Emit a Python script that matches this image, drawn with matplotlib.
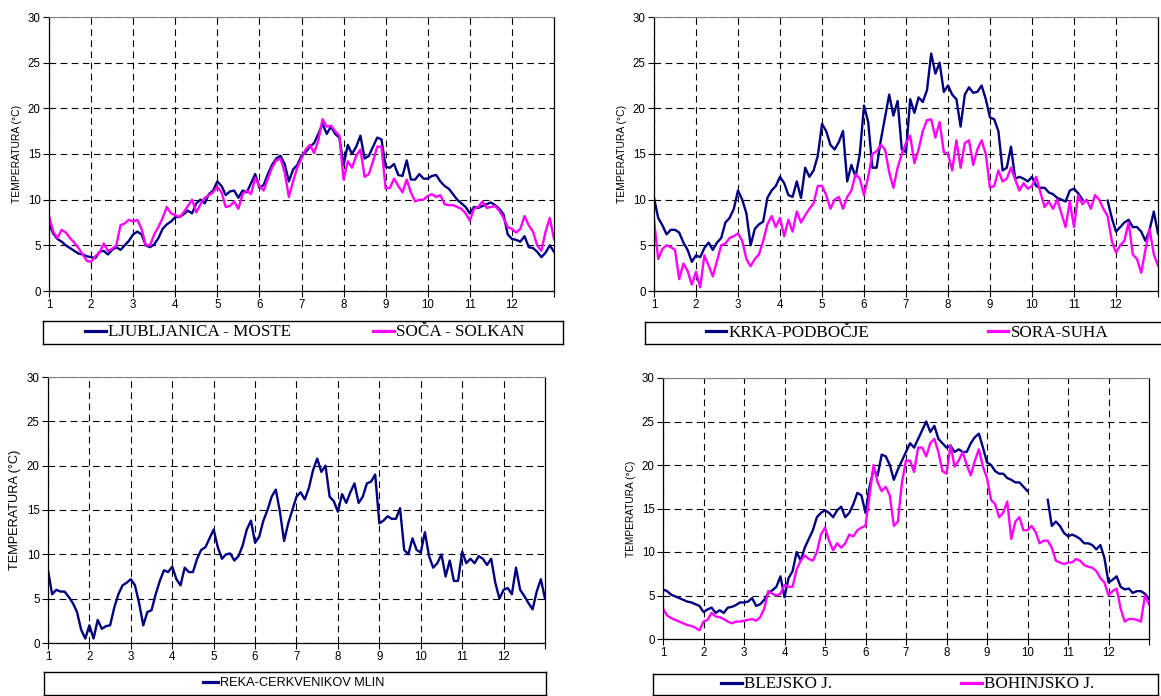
import numpy as np
import matplotlib
matplotlib.use("Agg")
import matplotlib.pyplot as plt
from matplotlib.lines import Line2D
from matplotlib.legend import Legend

nan = np.nan
# sample positions (month axis, 0.1 month steps)
x_month = np.round(np.arange(1.0, 13.0001, 0.1), 1)
month_ticks = list(range(1, 13))
temp_ticks = [0, 5, 10, 15, 20, 25, 30]

ljubljanica = [7.4, 6.3, 5.7, 5.4, 5.0, 4.7, 4.4, 4.1, 4.0, 3.8,
               3.7, 3.6, 4.3, 4.4, 4.0, 4.5, 4.8, 4.5, 5.0, 5.5,
               6.2, 6.5, 6.2, 5.0, 4.8, 5.1, 5.8, 6.8, 7.3, 7.6,
               8.1, 8.1, 8.4, 8.8, 8.5, 9.6, 10.0, 9.6, 10.6, 11.0,
               12.0, 11.5, 10.5, 10.9, 11.0, 10.2, 11.0, 10.8, 11.8, 12.8,
               11.3, 11.6, 12.8, 13.8, 14.5, 14.8, 13.9, 12.0, 13.3, 13.8,
               14.8, 15.2, 15.8, 16.2, 17.2, 18.3, 17.2, 18.0, 17.2, 16.8,
               13.8, 16.0, 15.0, 15.8, 17.0, 14.5, 14.8, 15.8, 16.8, 16.6,
               13.6, 13.5, 13.9, 12.7, 12.6, 14.3, 12.2, 12.2, 12.8, 12.3,
               12.3, 12.6, 12.7, 12.0, 11.5, 11.2, 10.6, 10.0, 9.6, 9.2,
               8.5, 9.2, 9.1, 9.3, 9.5, 9.7, 9.4, 9.0, 8.4, 6.2,
               5.7, 5.6, 5.4, 6.0, 4.8, 4.7, 4.3, 3.7, 4.2, 5.0,
               4.3]
soca = [8.2, 6.5, 5.8, 6.7, 6.4, 5.8, 5.3, 4.7, 4.0, 3.3,
        3.2, 3.8, 4.2, 5.2, 4.4, 4.6, 5.0, 7.2, 7.4, 7.8,
        7.6, 7.8, 6.8, 5.0, 5.0, 6.2, 7.0, 8.0, 9.2, 8.5,
        8.3, 8.1, 8.6, 9.3, 10.0, 8.6, 9.5, 10.2, 10.5, 10.8,
        11.4, 10.8, 9.2, 9.3, 9.8, 9.0, 10.6, 11.0, 10.6, 12.4,
        11.5, 11.0, 12.3, 13.5, 14.3, 14.5, 13.0, 10.3, 12.0, 13.5,
        14.5, 15.5, 16.0, 15.1, 16.5, 18.8, 18.0, 18.1, 17.5, 17.0,
        12.2, 14.2, 13.5, 14.8, 15.5, 12.5, 12.8, 14.2, 15.8, 15.8,
        11.2, 11.3, 12.3, 11.5, 10.8, 12.2, 10.8, 9.8, 10.0, 10.0,
        10.4, 10.6, 10.3, 10.5, 9.5, 9.4, 9.4, 9.2, 9.0, 8.5,
        7.7, 9.0, 9.2, 9.8, 9.1, 9.2, 9.3, 8.8, 8.0, 7.0,
        6.8, 6.4, 6.8, 8.2, 7.2, 6.5, 5.0, 4.4, 6.5, 8.0,
        5.7]

krka = [10.2, 8.0, 7.2, 6.2, 6.7, 6.7, 6.4, 5.3, 4.5, 3.2,
        3.9, 3.7, 4.7, 5.3, 4.5, 5.3, 5.8, 7.5, 8.0, 9.0,
        11.0, 10.0, 8.5, 5.0, 6.8, 7.3, 7.6, 10.2, 11.0, 11.5,
        12.5, 11.8, 10.5, 10.3, 12.0, 10.2, 13.5, 12.5, 13.2, 14.8,
        18.3, 17.5, 16.0, 15.5, 16.3, 17.5, 12.0, 13.8, 12.5, 15.0,
        20.3, 18.5, 13.5, 13.5, 16.5, 19.0, 21.5, 19.2, 20.8, 15.5,
        15.2, 21.0, 19.5, 21.2, 20.7, 22.0, 26.0, 23.8, 25.0, 21.8,
        22.5, 21.5, 21.0, 18.0, 21.5, 22.3, 21.7, 21.8, 22.5, 21.0,
        19.0, 18.8, 17.5, 13.2, 13.5, 15.8, 12.3, 12.5, 12.3, 12.0,
        12.5, 11.5, 11.3, 11.3, 10.8, 10.6, 10.2, 10.0, 9.8, 11.0,
        11.2, 10.7, 10.0, nan, nan, nan, nan, nan, 9.9, 8.0,
        6.5, 7.0, 7.5, 7.8, 7.0, 7.0, 6.5, 5.5, 6.7, 8.7,
        6.3]
sora = [7.8, 3.5, 4.6, 5.0, 4.8, 4.5, 1.3, 3.0, 2.2, 0.7,
        2.1, 0.4, 3.9, 2.8, 1.6, 3.3, 5.0, 5.2, 5.8, 6.0,
        6.3, 5.5, 3.5, 2.7, 3.5, 4.0, 5.5, 7.3, 8.2, 7.0,
        8.0, 6.0, 7.8, 6.5, 8.7, 7.5, 8.3, 9.0, 9.6, 11.5,
        11.5, 10.5, 9.0, 10.0, 10.3, 9.0, 10.3, 11.0, 12.8, 12.3,
        10.5, 12.5, 15.0, 15.3, 16.0, 15.5, 13.0, 11.3, 13.5, 15.0,
        16.2, 17.0, 14.0, 15.5, 17.5, 18.7, 18.8, 16.8, 18.5, 15.2,
        15.0, 13.2, 16.5, 13.5, 16.2, 16.5, 13.8, 15.5, 16.5, 15.0,
        11.3, 11.5, 13.2, 12.0, 12.3, 13.5, 12.2, 11.0, 11.8, 11.2,
        11.5, 12.5, 10.8, 9.2, 9.8, 9.0, 10.0, 8.5, 7.0, 9.8,
        7.0, 10.5, 9.5, 10.0, 9.0, 10.5, 10.0, 9.0, 8.2, 5.5,
        4.2, 5.0, 5.5, 7.5, 4.0, 3.5, 2.0, 4.5, 6.8, 4.0,
        2.8]

reka = [8.2, 5.5, 6.0, 5.8, 5.8, 5.2, 4.5, 3.5, 1.5, 0.5,
        2.0, 0.5, 2.6, 1.6, 1.9, 2.0, 4.0, 5.5, 6.5, 6.8,
        7.2, 6.5, 4.5, 2.0, 3.5, 3.7, 5.5, 7.0, 8.2, 8.0,
        8.6, 7.2, 6.5, 8.5, 8.0, 8.0, 9.5, 10.5, 10.8, 11.8,
        12.8, 10.8, 9.5, 10.0, 10.1, 9.3, 9.8, 11.0, 12.8, 13.8,
        11.3, 12.0, 13.8, 15.0, 16.5, 17.3, 14.8, 11.5, 13.5, 15.0,
        16.5, 17.0, 16.2, 17.5, 19.5, 20.8, 19.3, 20.0, 16.5, 16.0,
        14.8, 16.8, 15.8, 17.0, 18.0, 15.8, 16.5, 18.0, 18.2, 19.0,
        13.5, 13.8, 14.3, 14.0, 14.0, 15.2, 10.5, 10.0, 11.8, 10.5,
        10.2, 12.5, 9.8, 8.5, 9.0, 10.0, 7.5, 9.3, 7.0, 7.0,
        10.3, 9.0, 9.5, 9.0, 9.8, 9.5, 8.8, 9.5, 6.8, 5.0,
        6.0, 6.2, 5.5, 8.5, 6.0, 5.3, 4.5, 3.8, 5.8, 7.2,
        5.0]

blejsko = [5.7, 5.5, 5.1, 4.9, 4.7, 4.5, 4.3, 4.2, 4.0, 3.8,
           3.1, 3.4, 3.6, 3.0, 3.3, 3.0, 3.6, 3.7, 3.9, 4.2,
           4.2, 4.3, 4.7, 3.8, 4.0, 4.5, 5.3, 5.6, 6.0, 7.2,
           4.8, 7.0, 7.8, 10.0, 9.0, 10.5, 11.5, 12.5, 14.0, 14.5,
           14.8, 14.5, 14.0, 14.8, 15.2, 14.0, 14.5, 15.5, 16.8, 16.5,
           14.5, 17.5, 19.5, 18.8, 21.2, 21.0, 20.0, 18.3, 19.5, 20.5,
           21.5, 22.5, 22.0, 23.0, 24.0, 25.0, 23.8, 24.5, 23.0, 22.5,
           22.0, 22.2, 21.5, 21.8, 21.5, 21.5, 22.5, 23.2, 23.6, 22.0,
           20.3, 20.0, 19.3, 19.0, 19.0, 18.5, 18.3, 18.0, 18.0, 17.5,
           17.0, nan, nan, nan, nan, 16.0, 13.0, 13.5, 13.0, 12.2,
           11.8, 12.0, 11.8, 11.5, 11.0, 11.0, 10.8, 10.3, 10.8, 9.3,
           6.5, 6.8, 7.2, 6.0, 5.7, 5.8, 5.3, 5.5, 5.5, 5.2,
           4.6]
bohinjsko = [3.5, 2.7, 2.4, 2.2, 2.0, 1.8, 1.6, 1.5, 1.3, 1.0,
             2.0, 2.2, 3.0, 2.6, 2.5, 2.3, 2.0, 1.8, 2.0, 2.0,
             2.1, 2.2, 2.3, 2.1, 2.5, 3.5, 5.5, 5.2, 5.0, 5.2,
             6.2, 6.0, 6.0, 8.0, 9.0, 9.6, 9.2, 9.0, 10.0, 12.0,
             12.8, 11.3, 10.2, 11.0, 10.5, 11.0, 12.0, 11.8, 12.5, 12.8,
             13.0, 16.5, 20.0, 18.0, 17.0, 17.5, 16.5, 13.0, 13.5, 18.0,
             20.5, 20.5, 19.2, 22.0, 22.0, 21.0, 22.5, 23.0, 21.5, 19.3,
             19.0, 22.3, 19.8, 20.5, 21.5, 20.0, 18.8, 20.5, 21.8, 19.8,
             18.5, 16.0, 15.5, 14.0, 14.5, 15.8, 11.5, 13.5, 14.0, 12.5,
             12.5, 13.0, 12.3, 11.0, 11.3, 11.3, 10.5, 9.0, 8.8, 8.6,
             8.8, 8.8, 9.2, 9.0, 8.5, 8.3, 8.2, 7.8, 7.0, 6.5,
             5.0, 5.5, 5.8, 3.5, 2.0, 2.3, 2.3, 2.2, 2.0, 5.0,
             4.0]

NAVY = "#000080"
MAGENTA = "#FF00FF"
W, H = 1161, 696

fig = plt.figure(figsize=(W / 100, H / 100), dpi=100)


def fx(px):
    return px / W


def fy(py):
    return 1 - py / H


def panel(ax_px, leg_px, series, ylab_size, leg_font, leg_size, leg_x):
    l, t, r, b = ax_px
    ax = fig.add_axes([fx(l), fy(b), fx(r - l), fy(t) - fy(b)])
    lines = []
    for vals, col, lab in series:
        ln, = ax.plot(x_month, vals, color=col, lw=1.7, label=lab,
                      solid_joinstyle="round")
        lines.append(ln)
    ax.set_xlim(1, 13)
    ax.set_ylim(0, 30)
    ax.set_xticks(month_ticks)
    ax.set_yticks(temp_ticks)
    ax.set_xticks(range(1, 14), minor=True)
    ax.tick_params(which="both", direction="out", length=4, width=0.8,
                   labelsize=8.3, pad=2)
    for lab in ax.get_xticklabels() + ax.get_yticklabels():
        lab.set_fontfamily("Liberation Sans")
    ax.grid(True, which="major", color="black", lw=0.8,
            linestyle=(0, (6, 4)))
    ax.set_axisbelow(True)
    for s in ["left", "bottom", "right"]:
        ax.spines[s].set_color("black")
        ax.spines[s].set_linewidth(0.9)
    ax.spines["top"].set_color("#808080")
    ax.spines["top"].set_linewidth(0.8)
    ax.set_ylabel("TEMPERATURA (\u00b0C)", fontsize=ylab_size,
                  family="Liberation Sans", labelpad=4)
    ax.patch.set_alpha(0)

    ll, lt, lr, lb = leg_px
    lax = fig.add_axes([fx(ll), fy(lb), fx(lr - ll), fy(lt) - fy(lb)])
    lax.set_xticks([])
    lax.set_yticks([])
    for s in lax.spines.values():
        s.set_color("black")
        s.set_linewidth(1.0)
    for ln, xpos in zip(lines, leg_x):
        handle = Line2D([], [], color=ln.get_color(), lw=2.3)
        lg = Legend(lax, [handle], [ln.get_label()], loc="center left",
                    bbox_to_anchor=(xpos, 0.5), frameon=False,
                    borderpad=0, borderaxespad=0,
                    handlelength=1.2, handletextpad=0.15,
                    prop={"family": leg_font, "size": leg_size})
        lax.add_artist(lg)
    return ax


panel((49, 17, 554, 291), (43, 321, 563, 344),
      [(ljubljanica, NAVY, "LJUBLJANICA - MOSTE"),
       (soca, MAGENTA, "SO\u010cA - SOLKAN")],
      7.5, "Liberation Serif", 12.3, [0.081, 0.635])
panel((654, 17, 1158, 291), (645, 322, 1166, 344),
      [(krka, NAVY, "KRKA-PODBO\u010cJE"),
       (sora, MAGENTA, "SORA-SUHA")],
      7.5, "Liberation Serif", 12.3, [0.117, 0.658])
panel((48, 377, 545, 643), (44, 672, 546, 695),
      [(reka, NAVY, "REKA-CERKVENIKOV MLIN")],
      9.2, "Liberation Sans", 9.2, [0.316])
panel((663, 378, 1149, 639), (653, 674, 1158, 695),
      [(blejsko, NAVY, "BLEJSKO J."),
       (bohinjsko, MAGENTA, "BOHINJSKO J.")],
      7.3, "Liberation Serif", 12.3, [0.135, 0.61])

fig.savefig("out.png", dpi=100)
